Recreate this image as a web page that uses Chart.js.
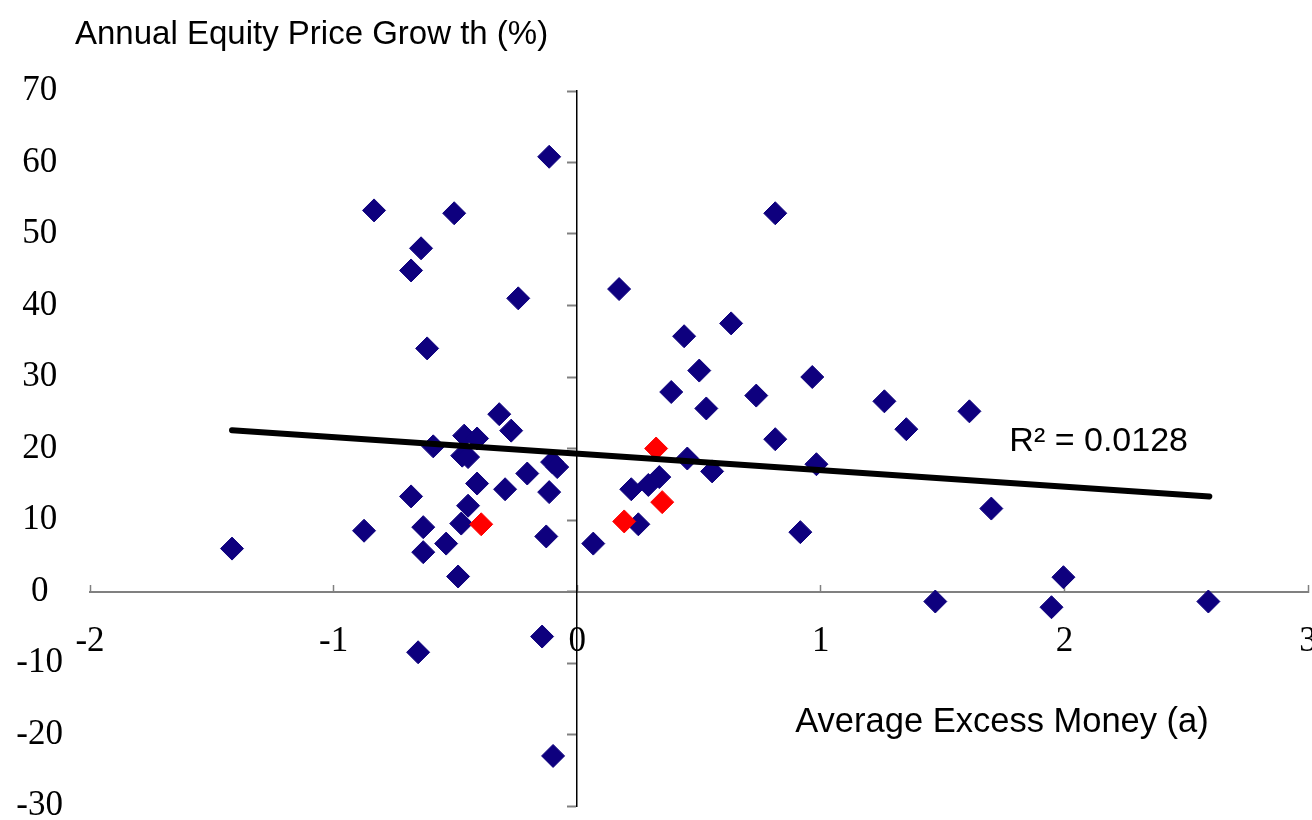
<!DOCTYPE html>
<html>
<head>
<meta charset="utf-8">
<title>Annual Equity Price Growth vs Average Excess Money</title>
<script src="https://cdn.jsdelivr.net/npm/chart.js@4.4.1/dist/chart.umd.min.js"></script>
<style>
  html, body { margin: 0; padding: 0; background: #ffffff; }
  #wrap { width: 1312px; height: 820px; }
</style>
</head>
<body>
<div id="wrap"><canvas id="chart" width="1312" height="820"></canvas></div>
<script>
// values
const blueX = [
  -1.417, -0.875, -0.834, -0.682, -0.682, -0.653, -0.641, -0.632, -0.632, -0.616,
  -0.591, -0.538, -0.505, -0.489, -0.476, -0.472, -0.464, -0.448, -0.448, -0.411,
  -0.411, -0.320, -0.296, -0.271, -0.242, -0.205, -0.144, -0.127, -0.115, -0.115,
  -0.103, -0.099, -0.082, 0.066, 0.172, 0.222, 0.251, 0.292, 0.337, 0.386,
  0.439, 0.452, 0.501, 0.530, 0.554, 0.632, 0.735, 0.813, 0.813, 0.916,
  0.965, 0.982, 1.261, 1.351, 1.470, 1.610, 1.700, 1.947, 1.996, 2.591
];
const blueY = [
  6.0, 8.5, 53.3, 44.9, 13.3, -8.5, 48.0, 9.0, 5.5, 34.0,
  20.3, 6.7, 52.9, 2.1, 9.5, 19.0, 21.8, 18.8, 12.0, 15.1,
  21.4, 24.8, 14.3, 22.5, 41.0, 16.5, -6.3, 7.7, 60.8, 13.9,
  18.1, -23.0, 17.4, 6.7, 42.3, 14.3, 9.4, 14.9, 16.0, 27.9,
  35.7, 18.6, 30.9, 25.6, 16.8, 37.5, 27.4, 52.9, 21.3, 8.3,
  30.0, 17.8, 26.6, 22.7, -1.4, 25.2, 11.6, -2.2, 2.0, -1.4
];
const redX = [-0.394, 0.193, 0.324, 0.349];
const redY = [9.4, 9.8, 20.0, 12.5];

// linear trend as drawn in the picture (end points)
const trendX = [-1.417, 2.595];
const trendY = [22.55, 13.3];

const xTicks = [-2, -1, 0, 1, 2, 3];
const yTicks = [70, 60, 50, 40, 30, 20, 10, 0, -10, -20, -30];

const titleText = 'Annual Equity Price Grow th (%)';
const xTitleText = 'Average Excess Money (a)';
const r2Text = 'R\u00b2 = 0.0128';

const navy = '#0e007e';
const red = '#ff0000';
const axisGray = '#808080';
const serif = "'Liberation Serif', 'Times New Roman', serif";
const sans = "'Liberation Sans', Arial, sans-serif";

const toPoints = (xs, ys) => xs.map((x, i) => ({ x, y: ys[i] }));

const textPlugin = {
  id: 'chartTexts',
  afterDraw(chart) {
    const { ctx, scales } = chart;
    ctx.save();
    ctx.fillStyle = '#000000';
    ctx.textBaseline = 'alphabetic';
    ctx.textAlign = 'left';

    ctx.font = `33px ${sans}`;
    ctx.fillText(titleText, 75, 44);

    ctx.font = `34px ${sans}`;
    ctx.fillText(r2Text, scales.x.getPixelForValue(1.774), scales.y.getPixelForValue(19.6));

    ctx.font = `34.5px ${sans}`;
    ctx.fillText(xTitleText, scales.x.getPixelForValue(0.895), scales.y.getPixelForValue(-19.6));
    ctx.restore();
  }
};

new Chart(document.getElementById('chart'), {
  type: 'scatter',
  data: {
    datasets: [
      {
        label: 'Trend',
        type: 'line',
        data: toPoints(trendX, trendY),
        borderColor: '#000000',
        borderWidth: 6,
        borderCapStyle: 'round',
        pointRadius: 0,
        fill: false,
        order: 0,
        yAxisID: 'y'
      },
      {
        label: 'Highlighted',
        data: toPoints(redX, redY),
        pointStyle: 'rectRot',
        pointRadius: 11.5,
        backgroundColor: red,
        borderColor: red,
        borderWidth: 1,
        order: 1,
        yAxisID: 'y'
      },
      {
        label: 'Countries',
        data: toPoints(blueX, blueY),
        pointStyle: 'rectRot',
        pointRadius: 11.5,
        backgroundColor: navy,
        borderColor: navy,
        borderWidth: 1,
        order: 2,
        yAxisID: 'y'
      }
    ]
  },
  options: {
    responsive: false,
    animation: false,
    devicePixelRatio: 1,
    layout: { autoPadding: false, padding: { top: 91, bottom: 14, left: 0, right: 4 } },
    plugins: {
      legend: { display: false },
      tooltip: { enabled: false }
    },
    scales: {
      x: {
        type: 'linear',
        position: { y: 0 },
        min: xTicks[0],
        max: xTicks[xTicks.length - 1],
        afterBuildTicks: (scale) => { scale.ticks = xTicks.map((v) => ({ value: v })); },
        afterFit: (scale) => { scale.paddingRight = 0; scale.paddingLeft = 0; },
        grid: {
          display: true,
          drawOnChartArea: false,
          drawTicks: true,
          tickLength: -8,
          tickColor: axisGray,
          tickWidth: 1.5
        },
        border: { display: true, color: axisGray, width: 2 },
        ticks: {
          color: '#000000',
          padding: 37,
          maxRotation: 0,
          font: { family: serif, size: 35 }
        }
      },
      y: {
        type: 'linear',
        position: 'left',
        min: yTicks[yTicks.length - 1],
        max: yTicks[0],
        afterBuildTicks: (scale) => { scale.ticks = yTicks.slice().reverse().map((v) => ({ value: v })); },
        afterFit: (scale) => {
          scale.width = 90;
          scale.paddingTop = 0;
          scale.paddingBottom = 0;
        },
        grid: { display: false },
        border: { display: false },
        ticks: {
          color: '#000000',
          padding: 19,
          crossAlign: 'center',
          font: { family: serif, size: 35 }
        }
      },
      yAxisLine: {
        type: 'linear',
        axis: 'y',
        position: { x: 0 },
        min: yTicks[yTicks.length - 1],
        max: yTicks[0],
        afterBuildTicks: (scale) => { scale.ticks = yTicks.slice().reverse().map((v) => ({ value: v })); },
        afterFit: (scale) => { scale.paddingTop = 0; scale.paddingBottom = 0; },
        grid: {
          display: true,
          drawOnChartArea: false,
          drawTicks: true,
          tickLength: 9,
          tickColor: axisGray,
          tickWidth: 2
        },
        border: { display: true, color: '#000000', width: 1.5 },
        ticks: { display: false }
      }
    }
  },
  plugins: [textPlugin]
});
</script>
</body>
</html>
